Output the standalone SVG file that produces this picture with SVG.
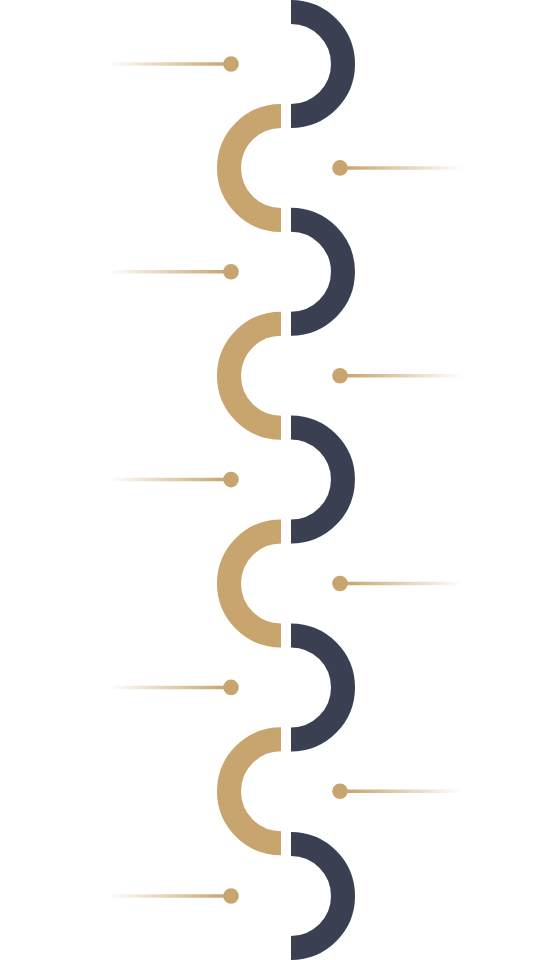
<svg xmlns="http://www.w3.org/2000/svg" width="560" height="960" viewBox="0 0 560 960">
<defs>
<linearGradient id="gl" gradientUnits="userSpaceOnUse" x1="108" y1="0" x2="226" y2="0">
<stop offset="0" stop-color="#C8A46E" stop-opacity="0"/>
<stop offset="1" stop-color="#C8A46E" stop-opacity="1"/>
</linearGradient>
<linearGradient id="gr" gradientUnits="userSpaceOnUse" x1="345" y1="0" x2="463" y2="0">
<stop offset="0" stop-color="#C8A46E" stop-opacity="1"/>
<stop offset="1" stop-color="#C8A46E" stop-opacity="0"/>
</linearGradient>
<style>
.dark{fill:none;stroke:#3A3F52;stroke-width:24}
.gold{fill:none;stroke:#C8A46E;stroke-width:24}
.ll{stroke:url(#gl);stroke-width:3.5}
.lr{stroke:url(#gr);stroke-width:3.5}
.dot{fill:#C8A46E}
</style>
</defs>
<g id="ring1"><path class="dark" d="M291 12 A52 52 0 0 1 291 116"/></g>
<g id="ring2"><path class="gold" d="M281 115.9 A52 52 0 0 0 281 219.9"/></g>
<g id="ring3"><path class="dark" d="M291 219.8 A52 52 0 0 1 291 323.8"/></g>
<g id="ring4"><path class="gold" d="M281 323.7 A52 52 0 0 0 281 427.7"/></g>
<g id="ring5"><path class="dark" d="M291 427.6 A52 52 0 0 1 291 531.6"/></g>
<g id="ring6"><path class="gold" d="M281 531.5 A52 52 0 0 0 281 635.5"/></g>
<g id="ring7"><path class="dark" d="M291 635.4 A52 52 0 0 1 291 739.4"/></g>
<g id="ring8"><path class="gold" d="M281 739.3 A52 52 0 0 0 281 843.3"/></g>
<g id="ring9"><path class="dark" d="M291 844 A52 52 0 0 1 291 948"/></g>
<g id="connectors">
<line class="ll" x1="108" y1="64" x2="231" y2="64"/>
<line class="lr" x1="340" y1="167.9" x2="463" y2="167.9"/>
<line class="ll" x1="108" y1="271.8" x2="231" y2="271.8"/>
<line class="lr" x1="340" y1="375.7" x2="463" y2="375.7"/>
<line class="ll" x1="108" y1="479.6" x2="231" y2="479.6"/>
<line class="lr" x1="340" y1="583.5" x2="463" y2="583.5"/>
<line class="ll" x1="108" y1="687.4" x2="231" y2="687.4"/>
<line class="lr" x1="340" y1="791.3" x2="463" y2="791.3"/>
<line class="ll" x1="108" y1="896" x2="231" y2="896"/>
</g>
<g id="dots">
<circle class="dot" cx="231" cy="64" r="7.8"/>
<circle class="dot" cx="340" cy="167.9" r="7.8"/>
<circle class="dot" cx="231" cy="271.8" r="7.8"/>
<circle class="dot" cx="340" cy="375.7" r="7.8"/>
<circle class="dot" cx="231" cy="479.6" r="7.8"/>
<circle class="dot" cx="340" cy="583.5" r="7.8"/>
<circle class="dot" cx="231" cy="687.4" r="7.8"/>
<circle class="dot" cx="340" cy="791.3" r="7.8"/>
<circle class="dot" cx="231" cy="896" r="7.8"/>
</g>
</svg>
